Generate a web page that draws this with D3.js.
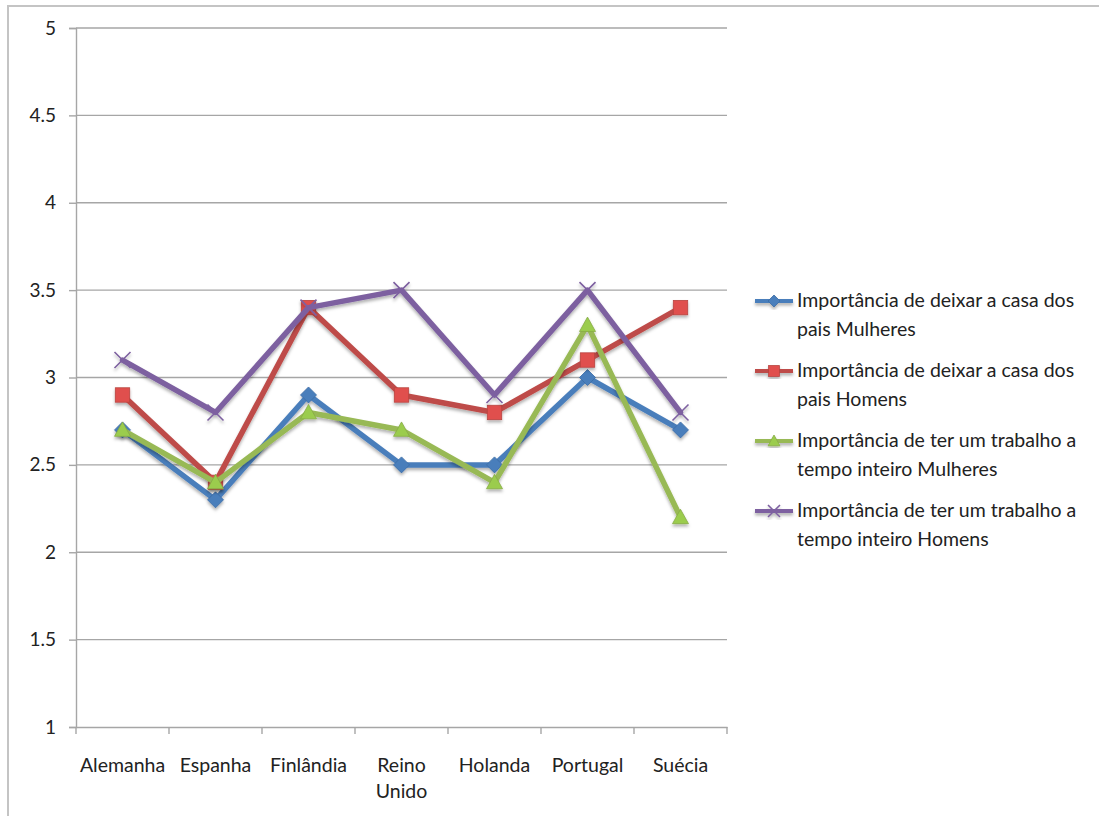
<!DOCTYPE html>
<html><head><meta charset="utf-8">
<script src="https://cdn.jsdelivr.net/npm/d3@7"></script>
<style>body{margin:0;background:#fff}svg{display:block;font-family:Lato,"Open Sans",sans-serif}</style>
</head><body>
<svg id="c" width="1099" height="816"></svg>
<script>
const categories = ["Alemanha","Espanha","Finlândia","Reino Unido","Holanda","Portugal","Suécia"];
const seriesNames = [
  "Importância de deixar a casa dos pais Mulheres",
  "Importância de deixar a casa dos pais Homens",
  "Importância de ter um trabalho a tempo inteiro Mulheres",
  "Importância de ter um trabalho a tempo inteiro Homens"
];
const legendLines = [
  ["Importância de deixar a casa dos","pais Mulheres"],
  ["Importância de deixar a casa dos","pais Homens"],
  ["Importância de ter um trabalho a","tempo inteiro Mulheres"],
  ["Importância de ter um trabalho a","tempo inteiro Homens"]
];
const mulheresDeixar = [2.7, 2.3, 2.9, 2.5, 2.5, 3.0, 2.7];
const homensDeixar   = [2.9, 2.4, 3.4, 2.9, 2.8, 3.1, 3.4];
const mulheresTrabalho = [2.7, 2.4, 2.8, 2.7, 2.4, 3.3, 2.2];
const homensTrabalho   = [3.1, 2.8, 3.4, 3.5, 2.9, 3.5, 2.8];
const yTicks = [1, 1.5, 2, 2.5, 3, 3.5, 4, 4.5, 5];
const seriesValues = [mulheresDeixar, homensDeixar, mulheresTrabalho, homensTrabalho];
const colors = ["#4A7EBB", "#BE4B48", "#98B954", "#7D60A0"];
const markerTypes = ["diamond", "square", "triangle", "x"];

const svg = d3.select("#c");
svg.append("path").attr("d","M8,816 L8,6 L1099,6").attr("fill","none").attr("stroke","#c4c4c4").attr("stroke-width",2);

const L = 76, R = 727, T = 28, B = 727;
const x = d3.scaleBand().domain(categories).range([L, R]);
const y = d3.scaleLinear().domain([1, 5]).range([B, T]);

const defs = svg.append("defs");
const f = defs.append("filter").attr("id","sh").attr("x","-20%").attr("y","-20%").attr("width","140%").attr("height","140%");
f.append("feDropShadow").attr("dx",0).attr("dy",2.5).attr("stdDeviation",1.6).attr("flood-color","#000").attr("flood-opacity",0.3);

svg.append("g").selectAll("line").data(yTicks.slice(1)).join("line")
  .attr("x1", L).attr("x2", R).attr("y1", d => y(d)).attr("y2", d => y(d))
  .attr("stroke","#a6a6a6").attr("stroke-width",1.4);

const yAxis = svg.append("g").attr("transform",`translate(${L},0)`)
  .call(d3.axisLeft(y).tickValues(yTicks).tickSize(7).tickPadding(13).tickFormat(d => String(d)));
yAxis.select(".domain").attr("stroke","#a6a6a6").attr("stroke-width",1.4);
yAxis.selectAll(".tick line").attr("stroke","#a6a6a6").attr("stroke-width",1.4);
yAxis.selectAll("text").attr("font-size",19).attr("fill","#222").attr("font-family","Lato,'Open Sans',sans-serif");

const xAxis = svg.append("g").attr("transform",`translate(0,${B})`)
  .call(d3.axisBottom(x).tickSize(0).tickFormat(""));
xAxis.select(".domain").attr("stroke","#a6a6a6").attr("stroke-width",1.4);
const bounds = categories.map(c => x(c)).concat([R]);
svg.append("g").selectAll("line").data(bounds).join("line")
  .attr("x1", d => d).attr("x2", d => d).attr("y1", B).attr("y2", B + 7)
  .attr("stroke","#a6a6a6").attr("stroke-width",1.4);
const lab = svg.append("g").selectAll("text").data(categories).join("text")
  .attr("x", d => x(d) + x.bandwidth()/2).attr("y", 772)
  .attr("text-anchor","middle").attr("font-size",19.5).attr("fill","#222");
lab.each(function(d){
  const parts = d === "Reino Unido" ? ["Reino","Unido"] : [d];
  const t = d3.select(this);
  parts.forEach((p,i) => t.append("tspan").attr("x", x(d) + x.bandwidth()/2).attr("dy", i ? 26 : 0).text(p));
});

function drawMarker(g, type, color, cx, cy, s) {
  if (type === "diamond") {
    g.append("path").attr("d", `M${cx},${cy-s} L${cx+s},${cy} L${cx},${cy+s} L${cx-s},${cy} Z`).attr("fill", color).attr("stroke","#3b6ba5").attr("stroke-width",0.8);
  } else if (type === "square") {
    g.append("rect").attr("x", cx - s*0.9).attr("y", cy - s*0.9).attr("width", s*1.8).attr("height", s*1.8).attr("fill","#e0504d").attr("stroke","#b84440").attr("stroke-width",0.8);
  } else if (type === "triangle") {
    g.append("path").attr("d", `M${cx},${cy-s} L${cx+s},${cy+s*0.8} L${cx-s},${cy+s*0.8} Z`).attr("fill","#9bcc4e").attr("stroke","#86ab45").attr("stroke-width",0.8);
  } else {
    g.append("path").attr("d", `M${cx-s},${cy-s} L${cx+s},${cy+s} M${cx+s},${cy-s} L${cx-s},${cy+s}`).attr("stroke", color).attr("stroke-width",1.6).attr("fill","none");
  }
}

const line = d3.line().x((d,i) => x(categories[i]) + x.bandwidth()/2).y(d => y(d));
seriesValues.forEach((vals, si) => {
  const g = svg.append("g").attr("filter","url(#sh)");
  g.append("path").attr("d", line(vals)).attr("fill","none").attr("stroke", colors[si])
    .attr("stroke-width",5.5).attr("stroke-linejoin","round").attr("stroke-linecap","round");
  vals.forEach((v,i) => drawMarker(g, markerTypes[si], colors[si], x(categories[i]) + x.bandwidth()/2, y(v), 8));
});

const lg = svg.append("g");
legendLines.forEach((lines, i) => {
  const cy = 301 + i * 70;
  const g = lg.append("g").attr("filter","url(#sh)");
  g.append("line").attr("x1",755).attr("x2",793).attr("y1",cy).attr("y2",cy).attr("stroke",colors[i]).attr("stroke-width",4);
  drawMarker(g, markerTypes[i], colors[i], 774, cy, 6);
  const t = lg.append("text").attr("x",797).attr("y",cy + 6).attr("font-size",19.5).attr("fill","#222");
  lines.forEach((l, j) => t.append("tspan").attr("x",797).attr("dy", j ? 29 : 0).text(l));
});
</script>
</body></html>
